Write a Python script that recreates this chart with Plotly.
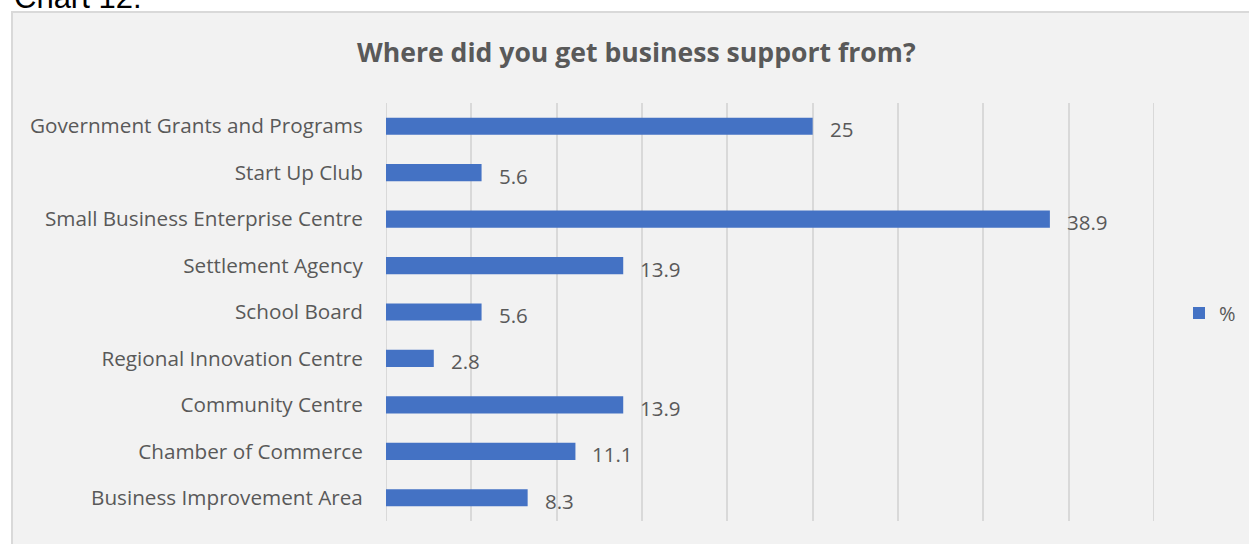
import plotly.graph_objects as go

categories = [
    "Business Improvement Area",
    "Chamber of Commerce",
    "Community Centre",
    "Regional Innovation Centre",
    "School Board",
    "Settlement Agency",
    "Small Business Enterprise Centre",
    "Start Up Club",
    "Government Grants and Programs",
]
values = [8.3, 11.1, 13.9, 2.8, 5.6, 13.9, 38.9, 5.6, 25]
value_labels = ["8.3", "11.1", "13.9", "2.8", "5.6", "13.9", "38.9", "5.6", "25"]
axis_min, axis_max = 0, 45

W, H = 1249, 544
L, R, T, B = 386, 1154, 103, 521
pw, ph = R - L, B - T

def px_x(p):
    return (p - L) / pw

def px_y(p):
    return (B - p) / ph

FONT = "Open Sans"
GREY = "#595959"
GRID = "#d9d9d9"

fig = go.Figure()
fig.add_trace(go.Bar(
    y=categories, x=values, orientation="h",
    marker=dict(color="#4472c4", line=dict(width=0)),
    name="%", showlegend=True,
))

annotations = []
for c, v, t in zip(categories, values, value_labels):
    annotations.append(dict(
        x=v, y=c, xref="x", yref="y", text=t, showarrow=False,
        xanchor="left", yanchor="middle", xshift=15, yshift=-3,
        font=dict(family=FONT, size=20.5, color=GREY),
    ))

annotations.append(dict(
    x=px_x(636), y=px_y(52), xref="paper", yref="paper",
    text="<b>Where did you get business support from?</b>", showarrow=False,
    xanchor="center", yanchor="middle",
    font=dict(family=FONT, size=26.6, color=GREY),
))
annotations.append(dict(
    x=px_x(12), y=px_y(17), xref="paper", yref="paper",
    text="Chart 12:", showarrow=False,
    xanchor="left", yanchor="bottom",
    font=dict(family="Liberation Sans", size=31, color="#000000"),
))

shapes = [dict(
    type="rect", xref="paper", yref="paper", layer="below",
    x0=px_x(12), x1=px_x(1260), y0=px_y(560), y1=px_y(12),
    fillcolor="#f2f2f2", line=dict(color=GRID, width=2),
)]
for xv in (axis_min, axis_max):
    shapes.append(dict(
        type="line", xref="x", yref="paper", layer="below",
        x0=xv, x1=xv, y0=0, y1=1,
        line=dict(color=GRID, width=2),
    ))

fig.update_layout(
    width=W, height=H, autosize=False,
    margin=dict(l=L, r=W - R, t=T, b=H - B, pad=0),
    paper_bgcolor="#ffffff",
    plot_bgcolor="rgba(0,0,0,0)",
    bargap=0.63,
    showlegend=True,
    legend=dict(
        x=1241 / W, y=(H - 313) / H, xref="container", yref="container",
        xanchor="right", yanchor="middle",
        bgcolor="rgba(0,0,0,0)",
        font=dict(family=FONT, size=20, color=GREY),
        itemwidth=30,
    ),
    xaxis=dict(
        range=[axis_min, axis_max], dtick=5, showticklabels=False,
        showgrid=True, gridcolor=GRID, gridwidth=2,
        zeroline=False, showline=False, fixedrange=True,
    ),
    yaxis=dict(
        categoryorder="array", categoryarray=categories,
        showgrid=False, zeroline=False, showline=False,
        ticks="outside", ticklen=18, tickcolor="rgba(0,0,0,0)",
        tickfont=dict(family=FONT, size=20.7, color=GREY),
        fixedrange=True,
    ),
    annotations=annotations,
    shapes=shapes,
)

fig.write_html(
    "out.html",
    config={"displayModeBar": False, "responsive": False},
    post_script="document.body.style.margin='0';document.body.style.overflow='hidden';",
)
